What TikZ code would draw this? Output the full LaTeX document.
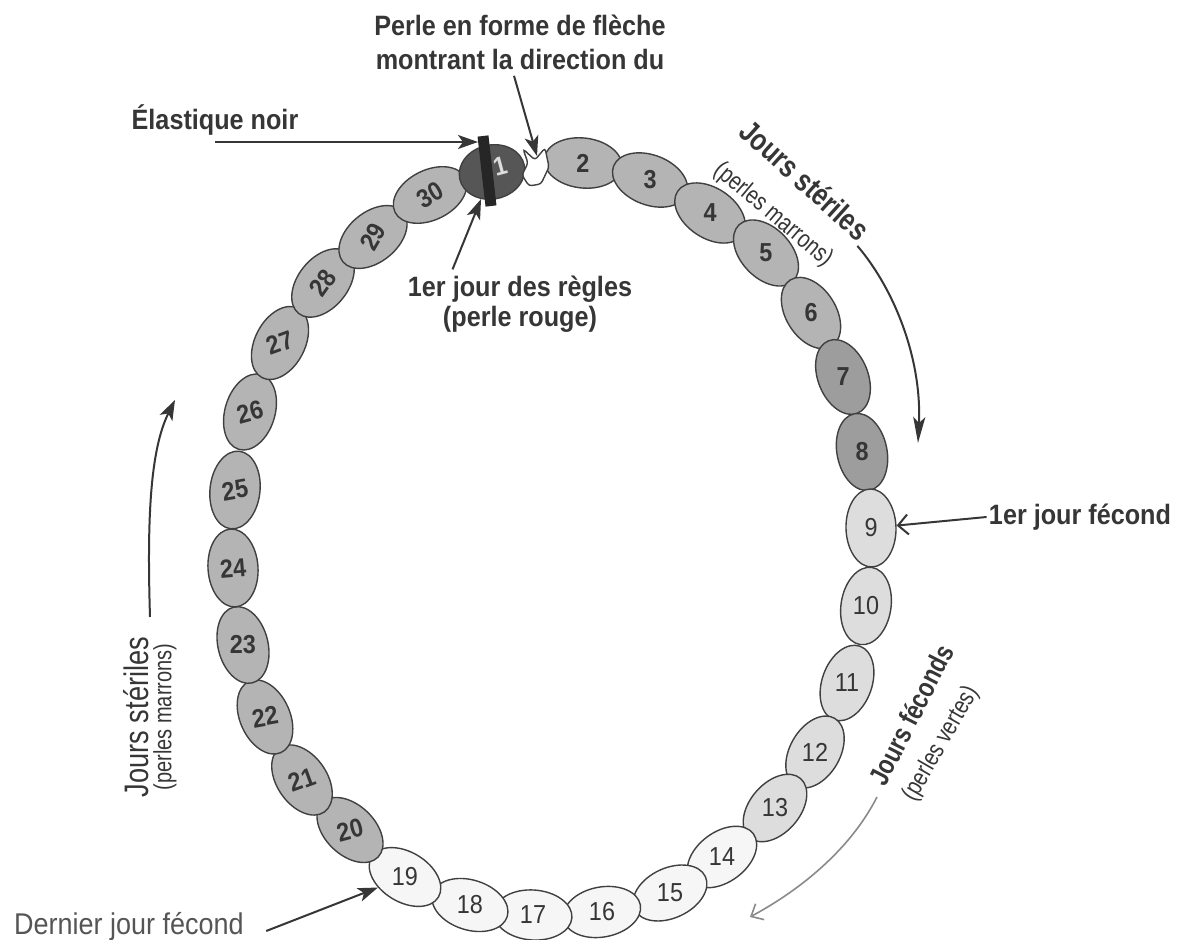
\documentclass[tikz,border=0pt]{standalone}
\usepackage{fontspec}
\usepackage{tikz}
\usetikzlibrary{arrows.meta,calc,shapes.geometric}
\newfontfamily\labelfont[FakeStretch=0.9]{Liberation Sans}
\newfontfamily\narrowfont[FakeStretch=0.8]{Liberation Sans}
\definecolor{Ink}{HTML}{363636}
\definecolor{InkSoft}{HTML}{555555}
\definecolor{Faded}{HTML}{8A8A8A}
\definecolor{BeadLine}{HTML}{404040}
\definecolor{BeadBrown}{HTML}{B4B4B4}
\definecolor{BeadBrownDark}{HTML}{9D9D9D}
\definecolor{BeadGreen}{HTML}{DDDDDD}
\definecolor{BeadWhite}{HTML}{F6F6F6}
\definecolor{BeadRed}{HTML}{565656}
\definecolor{ElasticBlack}{HTML}{262626}

\begin{document}
\begin{tikzpicture}[
        x=0.5pt, y=-0.5pt,
        bead/.style={
            ellipse,
            draw=BeadLine,
            line width=0.7pt,
            minimum width=39pt,
            minimum height=25pt,
            inner sep=0pt,
            text=Ink,
            font=\labelfont\fontsize{13pt}{13pt}\selectfont
        },
        perlemarron/.style={fill=BeadBrown, font=\labelfont\bfseries\fontsize{13pt}{13pt}\selectfont},
        perlesombre/.style={fill=BeadBrownDark, font=\labelfont\bfseries\fontsize{13pt}{13pt}\selectfont},
        perleverte/.style={fill=BeadGreen},
        perleblanche/.style={fill=BeadWhite},
        perlerouge/.style={fill=BeadRed, minimum width=33pt, minimum height=27pt},
        note/.style={text=Ink, inner sep=1pt, align=center, font=\labelfont\bfseries\fontsize{14pt}{17pt}\selectfont},
        plainnote/.style={text=InkSoft, inner sep=1pt, font=\labelfont\fontsize{15pt}{17pt}\selectfont},
        bandtitle/.style={text=Ink, inner sep=1pt, font=\narrowfont\bfseries\fontsize{15.5pt}{16pt}\selectfont},
        bandsub/.style={text=Ink, inner sep=1pt, font=\narrowfont\fontsize{12.5pt}{13pt}\selectfont},
        arrow/.style={-{Stealth[length=10pt, width=7pt, inset=2.5pt]}, line width=1pt, draw=Ink},
        openarrow/.style={-{Straight Barb[length=5pt, width=10pt]}, line width=1pt, draw=Ink},
        softarrow/.style={-{Straight Barb[length=5pt, width=9pt]}, line width=0.8pt, draw=Faded},
        elastic/.style={line width=5.5pt, draw=ElasticBlack}
    ]
        \useasboundingbox (0,0) rectangle (1184,940);

        \foreach \n/\x/\y/\t/\kind in {
            2/583/163/0/perlemarron, 3/650/180/0/perlemarron, 4/710/213/0/perlemarron,
            5/766/253/0/perlemarron, 6/811/313/0/perlemarron, 7/843/377/0/perlesombre,
            8/862/452/0/perlesombre, 9/871/528/0/perleverte, 10/866/606/0/perleverte,
            11/847/683/0/perleverte, 12/815/752/0/perleverte, 13/775/808/0/perleverte,
            14/722/857/0/perleblanche, 15/670/893/0/perleblanche, 16/602/912/0/perleblanche,
            17/533/915/0/perleblanche, 18/470/905/0/perleblanche, 19/405/877/0/perleblanche,
            20/350/830/15/perlemarron, 21/302/780/20/perlemarron, 22/265/717/10/perlemarron,
            23/243/645/0/perlemarron, 24/233/568/5/perlemarron, 25/235/490/10/perlemarron,
            26/250/412/15/perlemarron, 27/280/343/20/perlemarron, 28/323/283/55/perlemarron,
            29/373/237/60/perlemarron, 30/430/195/30/perlemarron}{
            \pgfmathsetmacro{\rot}{atan2(1.1787*(\x-552), 0.8484*(\y-539))}
            \pgfmathsetmacro{\adj}{\t-\rot}
            \node[bead, \kind, rotate=\rot] (b\n) at (\x,\y) {\rotatebox{\adj}{\n}};
        }

        \node[bead, perlerouge, rotate=12] (b1) at (492,172) {};
        \draw[elastic] (483,136) -- (491,206);
        \node[text=BeadGreen, font=\labelfont\bfseries\fontsize{13pt}{13pt}\selectfont, rotate=15] (chiffre1) at (500,166) {1};
        \draw[draw=BeadLine, line width=0.7pt, fill=white, rounded corners=1.5pt]
            (523,149) -- (535,160) -- (545,148) -- (549,167) -- (541,184) -- (529,186) -- (522,175) -- (528,163) -- cycle;
        \coordinate (fleche) at (537,156);
        \coordinate (elastique) at (478,142);

        \node[note] (perle) at (520,42) {Perle en forme de flèche\\montrant la direction du};
        \node[note] (lblelastique) at (215,120) {Élastique noir};
        \node[note, font=\labelfont\bfseries\fontsize{14pt}{15pt}\selectfont] (regles) at (520,304) {1er jour des règles\\(perle rouge)};
        \node[note] (fecond) at (1080,517) {1er jour fécond};
        \node[plainnote] (dernier) at (129,927) {Dernier jour fécond};

        \node[bandtitle, rotate=-42] (sterhaut) at (805,180) {Jours stériles};
        \node[bandsub, rotate=-40] (sterhautsub) at (773,215) {(perles marrons)};
        \node[bandtitle, font=\narrowfont\fontsize{17pt}{17pt}\selectfont, rotate=90] (stergauche) at (136,717) {Jours stériles};
        \node[bandsub, rotate=90] (stergauchesub) at (165,717) {(perles marrons)};
        \node[bandtitle, font=\narrowfont\bfseries\fontsize{14pt}{14pt}\selectfont, rotate=63] (feconds) at (911,715) {Jours féconds};
        \node[bandsub, rotate=60] (fecondssub) at (941,744) {(perles vertes)};

        \coordinate (sterhautfin) at (918,443);
        \coordinate (stergauchedebut) at (150,617);
        \coordinate (stergauchefin) at (175,400);
        \coordinate (fecondsdebut) at (877,797);
        \coordinate (fecondsfin) at (750,917);

        \draw[arrow] (lblelastique.south |- elastique) -- (elastique);
        \draw[arrow] ($(perle.south)+(-6,4)$) -- (fleche);
        \draw[arrow] ($(regles.north west)+(47,-4)$) -- (b1);
        \draw[openarrow] (fecond.west) -- (b9);
        \draw[arrow] ($(dernier.east)+(20,4)$) -- (b19);
        \draw[arrow, -{Stealth[length=13pt, width=6pt, inset=3pt]}] (sterhaut.south east) .. controls (895,290) and (922,360) .. (sterhautfin);
        \draw[arrow] (stergauchedebut) .. controls (147,520) and (150,450) .. (stergauchefin);
        \draw[softarrow] (fecondsdebut) .. controls (850,850) and (800,890) .. (fecondsfin);
    \end{tikzpicture}
\end{document}
